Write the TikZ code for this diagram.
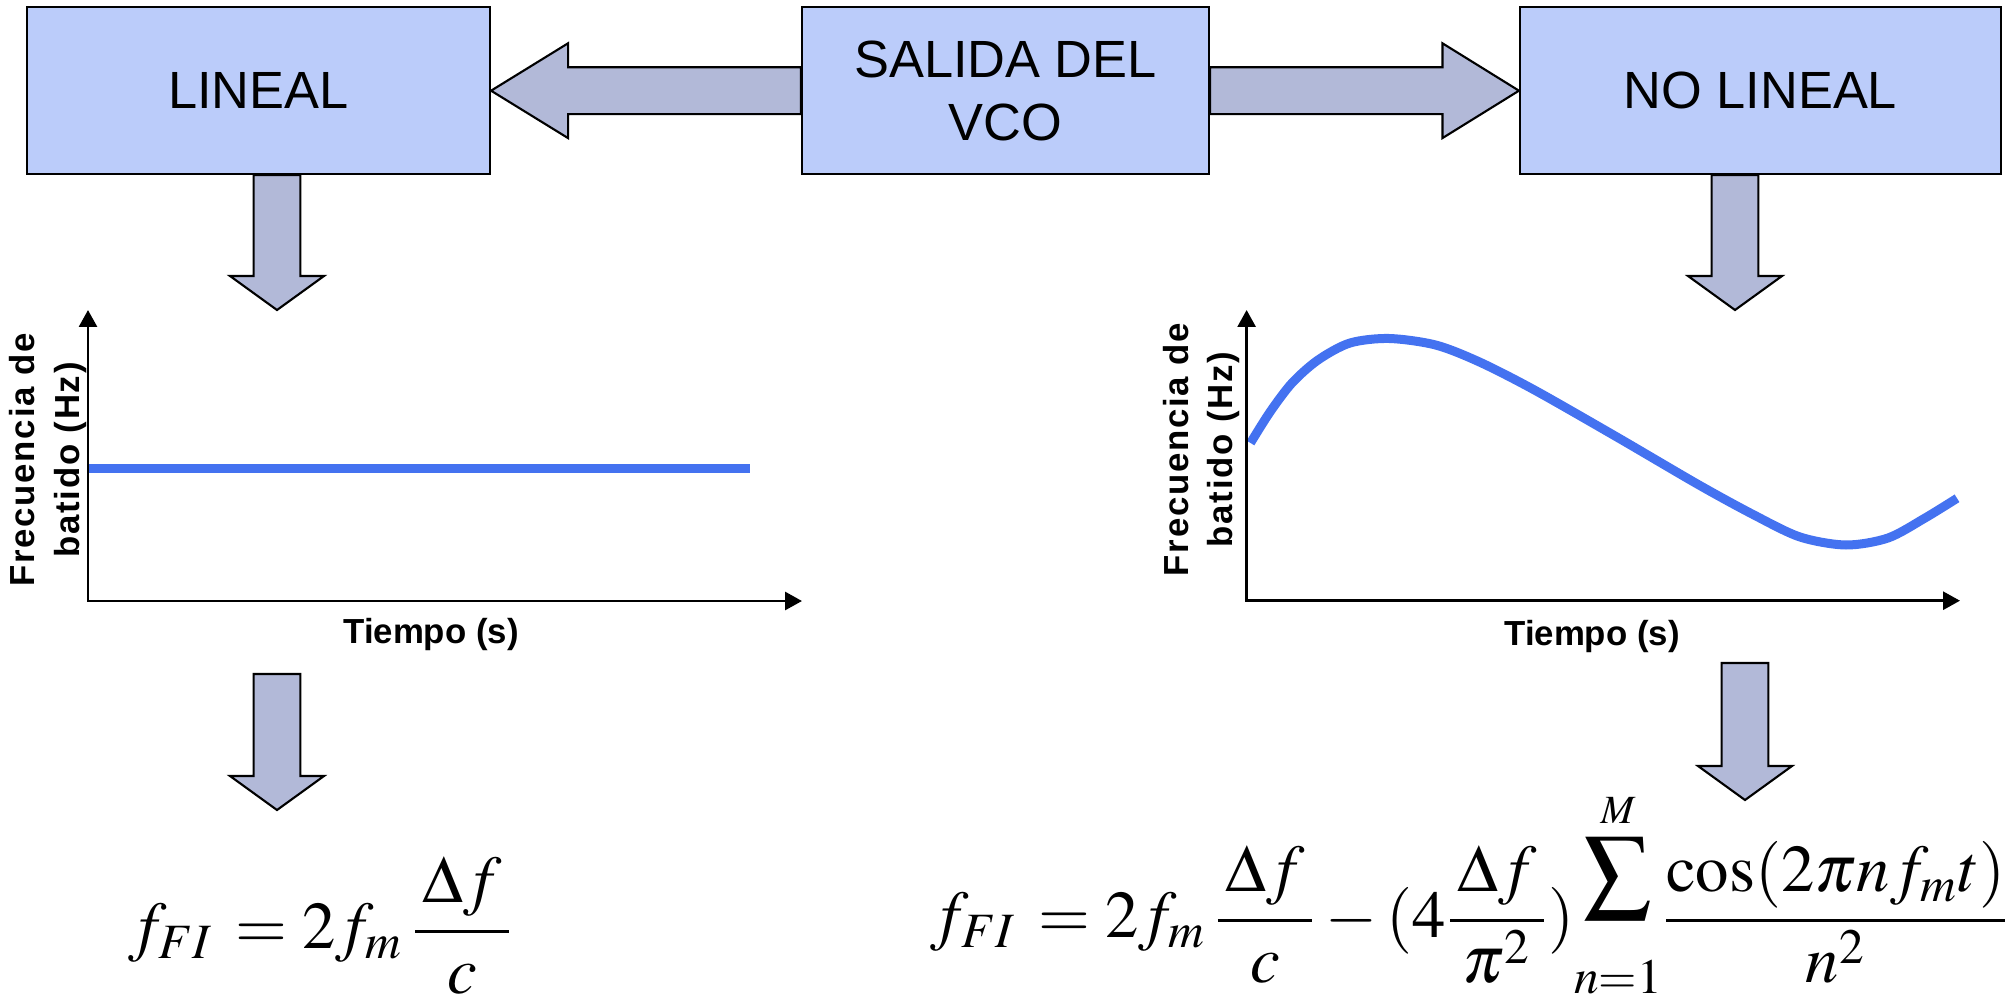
\documentclass[tikz,border=0pt]{standalone}
\usepackage{mathptmx}
\usepackage[no-math]{fontspec}
\setmainfont{Liberation Sans}
\newfontfamily\spacedsans[LetterSpace=5]{Liberation Sans}
\usetikzlibrary{arrows.meta,calc}

\definecolor{boxfill}{RGB}{187,204,250}
\definecolor{arrowfill}{RGB}{178,185,216}
\definecolor{curveblue}{RGB}{68,114,240}

\tikzset{
  box/.style={draw, line width=0.6pt, fill=boxfill, align=center, inner sep=0pt,
    minimum height=16.67mm, font=\fontsize{14.9}{17.9}\selectfont},
  blockarrow/.style={draw, line width=0.6pt, fill=arrowfill, line join=miter},
  axes/.style={line width=0.8pt, {Triangle[length=1.7mm,width=1.8mm]}-{Triangle[length=1.7mm,width=1.8mm]}},
  curve/.style={curveblue, line width=0.9mm},
  axislabel/.style={font=\bfseries\fontsize{9.9}{12.6}\selectfont, align=center, inner sep=0pt},
  ylabel/.style={font=\spacedsans\bfseries\fontsize{9.9}{12.6}\selectfont, align=center, inner sep=0pt, rotate=90},
  formula/.style={font=\fontsize{19}{23}\selectfont, inner sep=0pt, anchor=base east},
}

\begin{document}
\begin{tikzpicture}[x=0.1mm, y=-0.1mm]
    \useasboundingbox (0,0) rectangle (2011,1004);
    % boxes
    \node[box, minimum width=46.32mm] (lineal) at (258.4,90.7) {LINEAL};
    \node[box, minimum width=40.7mm] (salida) at (1005.5,90.7) {SALIDA DEL\\VCO};
    \node[box, minimum width=48.06mm] (nolineal) at (1760.3,90.7) {NO LINEAL};
    % block arrows
    \draw[blockarrow] (lineal.east) -- ++(77,-47.4) -- ++(0,24) -- ($(salida.west)+(0,-23.4)$)
        -- ($(salida.west)+(0,23.4)$) -- ($(lineal.east)+(77,23.4)$) -- ++(0,24) -- cycle;
    \draw[blockarrow] (nolineal.west) -- ++(-76.5,-47.4) -- ++(0,24) -- ($(salida.east)+(0,-23.4)$)
        -- ($(salida.east)+(0,23.4)$) -- ($(nolineal.west)+(-76.5,23.4)$) -- ++(0,24) -- cycle;
    \coordinate (s1) at ($(lineal.south)+(18.6,0)$); \coordinate (e1) at (277,310);
    \coordinate (s2) at ($(nolineal.south)+(-25.3,0)$); \coordinate (e2) at (1735,310);
    \coordinate (s3) at (277,674); \coordinate (e3) at (277,810);
    \coordinate (s4) at (1745,663); \coordinate (e4) at (1745,800);
    \foreach \i in {1,...,4}
        \draw[blockarrow] ($(s\i)+(-23.4,0)$) -- ($(e\i)+(-23.4,-34)$) -- ++(-23.6,0) -- (e\i)
            -- ++(47,-34) -- ++(-23.6,0) -- ($(s\i)+(23.4,0)$) -- cycle;
    % linear plot
    \coordinate (o1) at (88,601); \coordinate (y1) at (88,310); \coordinate (x1) at (802,601);
    \draw[curve] (88,468) -- (749.5,468);
    \draw[axes] (y1) |- (x1);
    \node[ylabel] (ylab1) at (48,460) {Frecuencia de\\batido (Hz)};
    \node[axislabel] (xlab1) at (431,634) {Tiempo (s)};
    % nonlinear plot
    \coordinate (o2) at (1246.6,600.7); \coordinate (y2) at (1246.6,310); \coordinate (x2) at (1960,600.7);
    \draw[curve] plot[smooth] coordinates {(1250.5,443) (1270,412) (1292,383) (1318,360) (1350,343)
        (1389,338.5) (1435.6,345) (1479.5,362) (1534.4,390) (1616.8,437) (1699,485) (1754,515)
        (1800,537) (1846,545) (1888,538) (1925,518) (1957,498.3)};
    \draw[axes] (y2) |- (x2);
    \node[ylabel] (ylab2) at (1201.5,449.5) {Frecuencia de\\batido (Hz)};
    \node[axislabel] (xlab2) at (1592,636) {Tiempo (s)};
    % formulas
    \node[formula] (lineq) at (514,948) {$\displaystyle f_{FI}\,=2f_m\,\frac{\mkern2mu\Delta f\mkern2mu}{c}$};
    \node[formula] (nleq) at (2010,937)
        {$\displaystyle f_{FI}\,=2f_m\,\frac{\mkern2mu\Delta f\mkern2mu}{c}-(4\frac{\mkern2mu\Delta f\mkern2mu}{\pi^2})
        \raisebox{4.2mm}{$\displaystyle\sum_{\rule{0pt}{6.3mm}n=1}^{\scriptscriptstyle M}$}
        \frac{\cos(2\pi nf_mt)}{n^2}$};
\end{tikzpicture}
\end{document}
